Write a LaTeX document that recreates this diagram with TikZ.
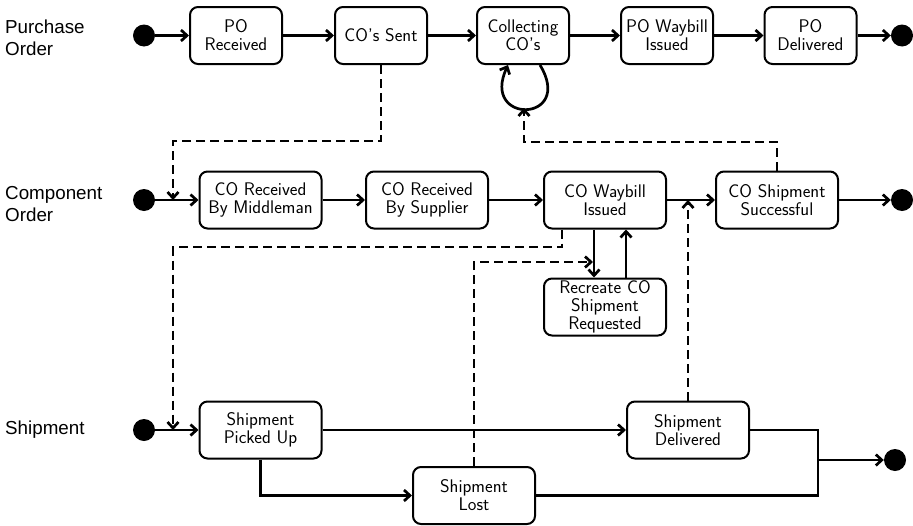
\documentclass[tikz,border=0pt]{standalone}
\usepackage{fontspec}
\newfontfamily\lanefont{Liberation Sans}
\usetikzlibrary{arrows.meta}
\begin{document}
\begin{tikzpicture}[x=1pt,y=-1pt,
  state/.style={draw, line width=2pt, rounded corners=8pt, minimum width=92pt, minimum height=57pt, inner sep=0pt, align=center, font=\sffamily\fontsize{18.3}{18}\selectfont},
  wstate/.style={state, minimum width=122pt},
  dot/.style={circle, fill=black, minimum size=22pt, inner sep=0pt},
  line/.style={line width=2.7pt},
  flow/.style={line, -{Straight Barb[length=6pt,width=11pt]}},
  dflow/.style={flow, dash pattern=on 9pt off 5pt},
  lane/.style={anchor=west, align=left, inner sep=0pt, font=\lanefont\fontsize{18.8}{22}\selectfont}
]
\useasboundingbox (0,0) rectangle (913,525);

% lane labels
\node[lane] (l1) at (5,38) {Purchase\\Order};
\node[lane] (l2) at (5,204) {Component\\Order};
\node[lane] (l3) at (5,430) {Shipment};

% row 1
\node[dot] (s1) at (144,35.5) {};
\node[state] (po) at (236,35.5) {PO\\Received};
\node[state] (cos) at (381,35.5) {CO's Sent};
\node[state] (coll) at (523,35.5) {Collecting\\CO's};
\node[state] (pow) at (667,35.5) {PO Waybill\\Issued};
\node[state] (pod) at (810.5,35.5) {PO\\Delivered};
\node[dot] (e1) at (902,35.5) {};

% row 2
\node[dot] (s2) at (144,200) {};
\node[wstate] (mid) at (260.5,200) {CO Received\\By Middleman};
\node[wstate] (sup) at (427,200) {CO Received\\By Supplier};
\node[wstate] (cow) at (605,200) {CO Waybill\\Issued};
\node[wstate] (succ) at (777,200) {CO Shipment\\Successful};
\node[dot] (e2) at (902,200) {};
\node[wstate] (rec) at (605,307) {Recreate CO\\Shipment\\Requested};

% row 3
\node[dot] (s3) at (144,430) {};
\node[wstate] (pick) at (260.5,430) {Shipment\\Picked Up};
\node[wstate] (del) at (688,430) {Shipment\\Delivered};
\node[wstate] (lost) at (474,495.5) {Shipment\\Lost};
\node[dot] (e3) at (895,460) {};

% junction coordinates
\coordinate (j1) at (173,200);
\coordinate (j2) at (524,108);
\coordinate (j3) at (173,430);
\coordinate (j4) at (593,262);
\coordinate (j5) at (688,200);
\coordinate (jn) at (818,460);

% row 1 flows
\draw[flow] (s1) -- (po);
\draw[flow] (po) -- (cos);
\draw[flow] (cos) -- (coll);
\draw[flow] (coll) -- (pow);
\draw[flow] (pow) -- (pod);
\draw[flow] (pod) -- (e1);
\draw[flow] ([xshift=17pt]coll.south) .. controls (575,123) and (480,125) .. ([xshift=-15pt]coll.south);

% row 2 flows
\draw[flow] (s2) -- (mid);
\draw[flow] (mid) -- (sup);
\draw[flow] (sup) -- (cow);
\draw[flow] (cow) -- (succ);
\draw[flow] (succ) -- (e2);
\draw[flow] ([xshift=-11pt]cow.south) -- ([xshift=-11pt]rec.north);
\draw[flow] ([xshift=21pt]rec.north) -- ([xshift=21pt]cow.south);

% row 3 flows
\draw[flow] (s3) -- (pick);
\draw[flow] (pick) -- (del);
\draw[flow] (pick.south) |- (lost.west);
\draw[line] (del.east) -| (jn);
\draw[line] (lost.east) -| (jn);
\draw[flow] (jn) -- (e3);

% dashed message flows
\draw[dflow] (cos.south) |- (173,141) -- (j1);
\draw[dflow] (succ.north) |- (524,142) -- (j2);
\draw[dflow] ([xshift=-43pt]cow.south) |- (173,247) -- (j3);
\draw[dflow] (lost.north) |- (j4);
\draw[dflow] (del.north) -- (j5);
\end{tikzpicture}
\end{document}
